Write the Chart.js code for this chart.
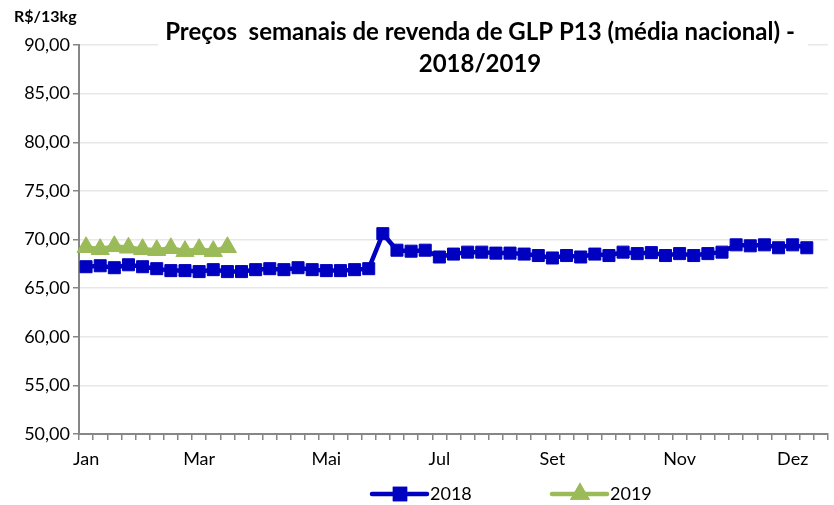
<!DOCTYPE html>
<html>
<head>
<meta charset="utf-8">
<script src="https://cdn.jsdelivr.net/npm/chart.js@4.4.1/dist/chart.umd.min.js"></script>
<style>
  html, body { margin: 0; padding: 0; background: #fff; }
</style>
</head>
<body>
<canvas id="glpChart" width="834" height="505"></canvas>
<script>
// weekly prices, R$/13kg
const weekCount = 53;
const monthNames = ['Jan', 'Mar', 'Mai', 'Jul', 'Set', 'Nov', 'Dez'];
const monthWeeks = [0, 8, 17, 25, 33, 42, 50];
const seriesNames = ['2018', '2019'];
const prices2018 = [
  67.2, 67.3, 67.1, 67.4, 67.2, 67.0, 66.8, 66.8, 66.7, 66.9, 66.7,
  66.7, 66.9, 67.0, 66.9, 67.1, 66.9, 66.8, 66.8, 66.9, 67.0,
  70.6,
  68.9, 68.8, 68.9, 68.2, 68.5, 68.7, 68.7, 68.6, 68.6, 68.5,
  68.35, 68.1, 68.35, 68.2, 68.5, 68.35, 68.7, 68.55, 68.65, 68.35,
  68.55, 68.35, 68.55, 68.7, 69.45, 69.35, 69.45, 69.15, 69.45, 69.15
];
const prices2019 = [69.2, 69.0, 69.3, 69.15, 69.0, 68.9, 69.1, 68.8, 69.0, 68.8, 69.2];
const yTicks = [50, 55, 60, 65, 70, 75, 80, 85, 90];

const FONT = 'Lato, "Open Sans", sans-serif';
const BLUE = '#0000C0';
const GREEN = '#9BBB59';
const AXIS = '#868686';

const labels = [];
for (let i = 0; i < weekCount; i++) {
  const k = monthWeeks.indexOf(i);
  labels.push(k >= 0 ? monthNames[k] : '');
}

const decor = {
  id: 'decor',
  afterDraw(chart) {
    const ctx = chart.ctx;
    ctx.save();
    // title box covers the top gridline
    ctx.fillStyle = '#fff';
    ctx.fillRect(158, 8, 650, 70);
    ctx.fillStyle = '#000';
    ctx.textAlign = 'center';
    ctx.textBaseline = 'middle';
    ctx.font = 'bold 24px ' + FONT;
    ctx.fillText('Preços  semanais de revenda de GLP P13 (média nacional) -', 480, 32);
    ctx.fillText('2018/2019', 480, 64);

    ctx.textAlign = 'left';
    ctx.font = 'bold 16px ' + FONT;
    ctx.fillText('R$/13kg', 14, 17);

    // legend: line with marker, then label
    const items = [
      { x: 372, ds: chart.data.datasets[0] },
      { x: 552, ds: chart.data.datasets[1] }
    ];
    const ly = 494;
    items.forEach(it => {
      ctx.strokeStyle = it.ds.borderColor;
      ctx.lineWidth = 4.5;
      ctx.lineCap = 'round';
      ctx.beginPath();
      ctx.moveTo(it.x, ly);
      ctx.lineTo(it.x + 55, ly);
      ctx.stroke();
      Chart.helpers.drawPoint(ctx, {
        pointStyle: it.ds.pointStyle,
        radius: 7,
        borderWidth: 1
      }, it.x + 28, ly);
      ctx.fillStyle = it.ds.pointBackgroundColor;
      ctx.strokeStyle = it.ds.pointBorderColor;
      ctx.fill();
      ctx.stroke();
      ctx.fillStyle = '#000';
      ctx.font = '18px ' + FONT;
      ctx.textBaseline = 'middle';
      ctx.fillText(it.ds.label, it.x + 58, ly);
    });
    ctx.restore();
  }
};

new Chart(document.getElementById('glpChart'), {
  type: 'line',
  data: {
    labels: labels,
    datasets: [
      {
        label: seriesNames[0],
        data: prices2018,
        borderColor: BLUE,
        backgroundColor: BLUE,
        borderWidth: 4.5,
        pointStyle: 'rect',
        pointRadius: 8.5,
        pointBorderWidth: 1,
        pointBackgroundColor: BLUE,
        pointBorderColor: BLUE,
        tension: 0
      },
      {
        label: seriesNames[1],
        data: prices2019,
        borderColor: GREEN,
        backgroundColor: GREEN,
        borderWidth: 4.5,
        pointStyle: 'triangle',
        pointRadius: 10.5,
        pointBorderWidth: 1,
        pointBackgroundColor: GREEN,
        pointBorderColor: GREEN,
        tension: 0
      }
    ]
  },
  options: {
    responsive: false,
    animation: false,
    layout: { autoPadding: false, padding: { top: 45, right: 6, left: 0, bottom: 0 } },
    plugins: {
      legend: { display: false },
      title: { display: false },
      tooltip: { enabled: false }
    },
    scales: {
      x: {
        offset: true,
        grid: {
          offset: true,
          drawOnChartArea: false,
          drawTicks: true,
          tickLength: 6,
          tickColor: AXIS,
          lineWidth: 1.5
        },
        border: { color: AXIS, width: 2 },
        ticks: {
          autoSkip: false,
          maxRotation: 0,
          padding: 8,
          color: '#000',
          font: { family: FONT, size: 18 }
        },
        afterFit(scale) { scale.height = 71; }
      },
      y: {
        min: 50,
        max: 90,
        afterBuildTicks(scale) { scale.ticks = yTicks.map(v => ({ value: v })); },
        grid: {
          color: '#e8e8e8',
          lineWidth: 1.5,
          drawTicks: true,
          tickLength: 6,
          tickColor: AXIS
        },
        border: { color: AXIS, width: 2 },
        ticks: {
          padding: 3,
          color: '#000',
          font: { family: FONT, size: 18 },
          callback: v => v.toFixed(2).replace('.', ',')
        },
        afterFit(scale) { scale.width = 79; }
      }
    }
  },
  plugins: [decor]
});
</script>
</body>
</html>
